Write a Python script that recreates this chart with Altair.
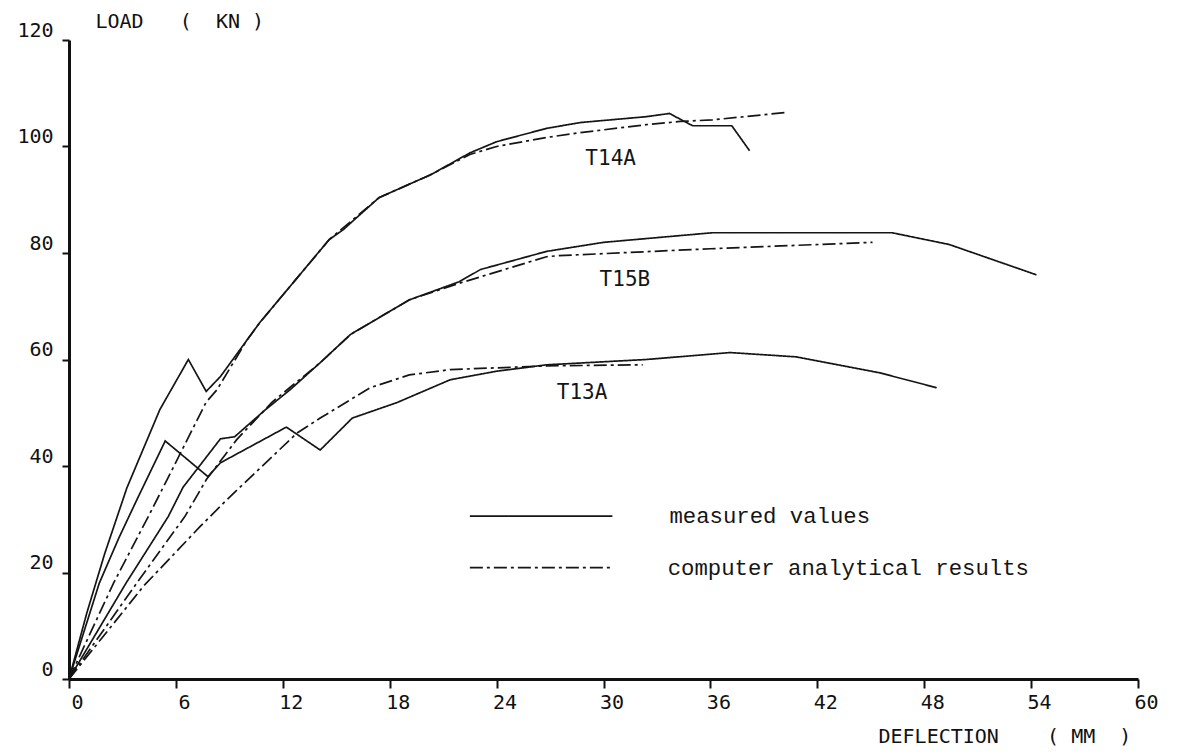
import altair as alt
import pandas as pd

# ---- data ----
t14a_meas_x = [0, 1.0, 2.0, 3.25, 5.1, 6.7, 7.7, 8.5, 10, 10.7, 11.7, 14.6, 15.4, 17.4, 20.3, 22.5, 24, 26.8, 28.7, 32.4, 33.7, 35, 37.2, 38.2]
t14a_meas_y = [0, 12.4, 23.5, 35.9, 50.6, 60, 54, 56.8, 63.7, 66.9, 70.9, 82.5, 84.4, 90.4, 94.7, 98.8, 100.9, 103.4, 104.5, 105.6, 106.2, 103.9, 103.9, 99.2]

t14a_comp_x = [0, 2.5, 4.45, 5.5, 7.7, 8.3, 10, 10.7, 14.6, 17.4, 20.3, 22.5, 24, 26.8, 28.7, 32.4, 34.3, 36.1, 40.3]
t14a_comp_y = [0, 18, 30.5, 37.4, 52, 54.3, 63.7, 66.9, 82.5, 90.4, 94.7, 98.5, 100, 101.7, 102.6, 104.1, 104.7, 105, 106.4]

t15b_meas_x = [0, 3.2, 5.57, 6.4, 8.5, 9.3, 11.0, 12.4, 14.1, 15.8, 19.1, 21.9, 23.1, 26.8, 30, 36.1, 46.2, 49.4, 54.3]
t15b_meas_y = [0, 18, 30.5, 36, 45.1, 45.5, 50.5, 54.3, 59.4, 64.7, 71.2, 74.6, 76.9, 80.3, 82, 83.8, 83.8, 81.6, 75.9]

t15b_comp_x = [0, 3.8, 6.5, 7.7, 9.4, 11.4, 14.1, 15.8, 19.1, 21.9, 26.8, 27.5, 36, 45.1]
t15b_comp_y = [0, 18, 30.5, 37.4, 44.9, 52, 59.4, 64.7, 71.2, 74.3, 79.3, 79.5, 80.8, 82]

t13a_meas_x = [0, 1.7, 2.8, 3.8, 5.4, 7.8, 8.5, 12.2, 14.1, 15.9, 18.4, 21.4, 24, 26.8, 32.4, 37.1, 40.8, 45.5, 48.7]
t13a_meas_y = [0, 18, 26.5, 33.6, 44.7, 38, 40.6, 47.3, 43, 49, 51.9, 56.2, 57.8, 59, 60, 61.3, 60.5, 57.5, 54.7]

t13a_comp_x = [0, 4.2, 7.35, 8.9, 12.8, 14.1, 16.9, 19.1, 21.4, 26.8, 32.2]
t13a_comp_y = [0, 17.5, 28.6, 33.8, 46.2, 49, 54.7, 57.1, 58.1, 58.8, 59]

label_text = ["T14A", "T15B", "T13A"]
label_x = [30.4, 31.2, 28.8]
label_y = [97.6, 75.0, 53.8]

legend_kind = ["measured", "computed"]
legend_text = ["measured values", "computer analytical results"]
legend_x1 = [22.5, 22.5]
legend_x2 = [30.5, 30.5]
legend_y = [30.6, 20.9]
legend_tx = [33.7, 33.6]

x_ticks = [0, 6, 12, 18, 24, 30, 36, 42, 48, 54, 60]
y_ticks = [0, 20, 40, 60, 80, 100, 120]

# ---- build table ----
rows = []
for name, kind, xs, ys in [
    ("T14A", "measured", t14a_meas_x, t14a_meas_y),
    ("T14A", "computed", t14a_comp_x, t14a_comp_y),
    ("T15B", "measured", t15b_meas_x, t15b_meas_y),
    ("T15B", "computed", t15b_comp_x, t15b_comp_y),
    ("T13A", "measured", t13a_meas_x, t13a_meas_y),
    ("T13A", "computed", t13a_comp_x, t13a_comp_y),
]:
    for i, (xv, yv) in enumerate(zip(xs, ys)):
        rows.append({"series": name + "-" + kind, "kind": kind, "x": xv, "y": yv, "o": i})
df = pd.DataFrame(rows)

labels = pd.DataFrame({"t": label_text, "x": label_x, "y": label_y})
leg = pd.DataFrame({"kind": legend_kind, "t": legend_text, "x1": legend_x1,
                    "x2": legend_x2, "y": legend_y, "tx": legend_tx})

NB = "\u00a0"
xscale = alt.Scale(domain=[0, 60], nice=False, zero=True)
yscale = alt.Scale(domain=[0, 120], nice=False)
dash = alt.Scale(domain=["measured", "computed"], range=[[1, 0], [13, 4, 3, 4]])

xaxis = alt.Axis(values=x_ticks, format="d", tickSize=9, tickWidth=2, domainWidth=3,
                 domainColor="#111", tickColor="#111", labelColor="#111",
                 labelFont="DejaVu Sans Mono", labelFontSize=20, labelPadding=4,
                 labelOffset=8, labelFlush=False, grid=False,
                 title="DEFLECTION" + NB * 4 + "(" + NB + "MM" + NB * 2 + ")",
                 titleFont="DejaVu Sans Mono", titleFontSize=20, titleFontWeight="normal",
                 titleColor="#111", titleAnchor="start", titleAlign="left",
                 titleX=809, titleY=63, titleBaseline="alphabetic")
yaxis = alt.Axis(values=y_ticks, format="d", tickSize=7, tickWidth=2, domainWidth=3,
                 domainColor="#111", tickColor="#111", labelColor="#111",
                 labelFont="DejaVu Sans Mono", labelFontSize=20, labelPadding=9,
                 labelBaseline="bottom", labelFlush=False, grid=False,
                 title="LOAD" + NB * 3 + "(" + NB * 2 + "KN" + NB + ")",
                 titleFont="DejaVu Sans Mono", titleFontSize=20, titleFontWeight="normal",
                 titleColor="#111", titleAngle=0, titleAlign="left",
                 titleX=26, titleY=-13, titleBaseline="alphabetic")

lines = alt.Chart(df).mark_line(color="#151515", strokeWidth=1.7).encode(
    x=alt.X("x:Q", scale=xscale, axis=xaxis),
    y=alt.Y("y:Q", scale=yscale, axis=yaxis),
    detail="series:N",
    order="o:Q",
    strokeDash=alt.StrokeDash("kind:N", scale=dash, legend=None),
)

text = alt.Chart(labels).mark_text(font="DejaVu Sans Mono", fontSize=21, color="#151515").encode(
    x=alt.X("x:Q", scale=xscale), y=alt.Y("y:Q", scale=yscale), text="t:N")

leg_lines = alt.Chart(leg).mark_rule(color="#151515", strokeWidth=1.7).encode(
    x=alt.X("x1:Q", scale=xscale), x2="x2:Q", y=alt.Y("y:Q", scale=yscale),
    strokeDash=alt.StrokeDash("kind:N", scale=dash, legend=None))

leg_text = alt.Chart(leg).mark_text(font="Liberation Mono", fontSize=22.3, color="#151515",
                                    align="left").encode(
    x=alt.X("tx:Q", scale=xscale), y=alt.Y("y:Q", scale=yscale), text="t:N")

chart = alt.layer(lines, text, leg_lines, leg_text).properties(
    width=1069, height=639,
    autosize=alt.AutoSizeParams(type="none"),
    padding={"left": 69, "top": 40, "right": 43, "bottom": 75},
    background="white",
).configure_view(stroke=None)

chart.save("out.html", embed_options={"renderer": "svg", "actions": False})
